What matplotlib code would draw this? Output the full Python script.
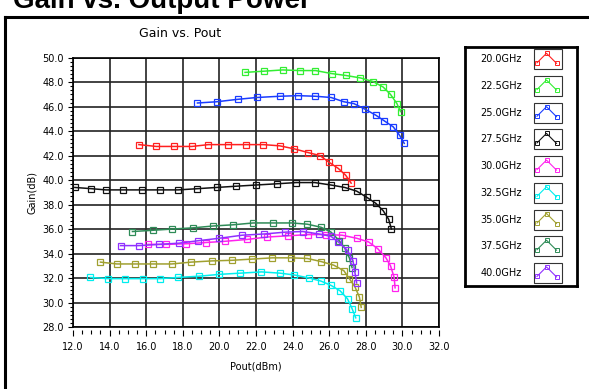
import matplotlib
matplotlib.use("Agg")
import matplotlib.pyplot as plt
from matplotlib.lines import Line2D
from matplotlib.patches import Rectangle
from matplotlib.ticker import MultipleLocator, FormatStrFormatter

# Gain vs Pout, une courbe par fréquence
freq_labels = ["20.0GHz", "22.5GHz", "25.0GHz", "27.5GHz", "30.0GHz",
               "32.5GHz", "35.0GHz", "37.5GHz", "40.0GHz"]
colors = ["#ff2020", "#33ee33", "#1a3cff", "#111111", "#ff22ee",
          "#00eeee", "#a0a030", "#2e8b57", "#9030ff"]

pout_20 = [15.6, 16.55, 17.5, 18.5, 19.4, 20.45, 21.45, 22.4, 23.3, 24.1, 24.85, 25.5, 26.0, 26.5, 26.9, 27.2]
gain_20 = [42.9, 42.75, 42.75, 42.75, 42.9, 42.9, 42.9, 42.9, 42.8, 42.55, 42.25, 42.0, 41.45, 40.95, 40.4, 39.75]

pout_22 = [21.4, 22.45, 23.45, 24.4, 25.25, 26.15, 26.9, 27.7, 28.4, 28.95, 29.35, 29.7, 29.9]
gain_22 = [48.8, 48.9, 49.0, 48.95, 48.95, 48.7, 48.55, 48.35, 48.05, 47.6, 47.0, 46.25, 45.6]

pout_25 = [18.8, 19.85, 21.0, 22.05, 23.3, 24.3, 25.25, 26.1, 26.8, 27.35, 27.95, 28.55, 29.0, 29.5, 29.85, 30.1]
gain_25 = [46.3, 46.4, 46.6, 46.75, 46.85, 46.9, 46.85, 46.75, 46.4, 46.25, 45.8, 45.3, 44.85, 44.35, 43.65, 43.0]

pout_27 = [12.1, 13.0, 13.8, 14.75, 15.75, 16.75, 17.75, 18.8, 19.85, 20.9, 22.0, 23.15,
           24.2, 25.2, 26.1, 26.85, 27.5, 28.05, 28.55, 28.95, 29.25, 29.4]
gain_27 = [39.4, 39.3, 39.2, 39.2, 39.2, 39.2, 39.2, 39.3, 39.4, 39.5, 39.6, 39.7,
           39.8, 39.8, 39.6, 39.4, 39.1, 38.6, 38.1, 37.5, 36.8, 36.0]

pout_30 = [16.1, 17.1, 18.2, 19.25, 20.3, 21.5, 22.6, 23.75, 24.85, 25.8, 26.7, 27.5,
           28.15, 28.65, 29.1, 29.35, 29.55, 29.6]
gain_30 = [34.75, 34.75, 34.8, 34.9, 35.0, 35.15, 35.35, 35.45, 35.55, 35.55, 35.5, 35.25,
           34.95, 34.4, 33.65, 33.0, 32.05, 31.2]

pout_32 = [12.95, 13.9, 14.85, 15.8, 16.75, 17.75, 18.9, 20.0, 21.15, 22.3, 23.3, 24.1,
           24.9, 25.55, 26.1, 26.6, 27.0, 27.25, 27.45]
gain_32 = [32.05, 31.95, 31.95, 31.95, 31.95, 32.05, 32.15, 32.3, 32.4, 32.5, 32.4, 32.25,
           32.0, 31.75, 31.4, 30.95, 30.3, 29.5, 28.75]

pout_35 = [13.5, 14.4, 15.4, 16.35, 17.4, 18.45, 19.6, 20.7, 21.8, 22.9, 23.9, 24.8,
           25.55, 26.25, 26.8, 27.1, 27.4, 27.65, 27.75]
gain_35 = [33.3, 33.15, 33.15, 33.15, 33.15, 33.3, 33.4, 33.45, 33.55, 33.65, 33.65, 33.6,
           33.35, 33.05, 32.6, 31.95, 31.3, 30.45, 29.6]

pout_37 = [15.25, 16.35, 17.4, 18.55, 19.65, 20.75, 21.85, 22.95, 23.95, 24.8, 25.55,
           26.1, 26.55, 26.85, 27.1, 27.25]
gain_37 = [35.8, 35.9, 36.0, 36.1, 36.25, 36.35, 36.5, 36.5, 36.5, 36.4, 36.15,
           35.75, 35.05, 34.45, 33.65, 32.85]

pout_40 = [14.6, 15.6, 16.7, 17.8, 18.85, 20.0, 21.25, 22.45, 23.6, 24.55, 25.45,
           26.1, 26.5, 27.0, 27.3, 27.4, 27.5]
gain_40 = [34.65, 34.65, 34.75, 34.85, 35.05, 35.25, 35.5, 35.6, 35.75, 35.8, 35.6,
           35.4, 34.95, 34.25, 33.4, 32.5, 31.6]

pouts = [pout_20, pout_22, pout_25, pout_27, pout_30, pout_32, pout_35, pout_37, pout_40]
gains = [gain_20, gain_22, gain_25, gain_27, gain_30, gain_32, gain_35, gain_37, gain_40]

W, H = 589, 389
fig = plt.figure(figsize=(W / 100, H / 100), dpi=100)
fig.patch.set_facecolor("white")


def fx(px):
    return px / W


def fy(py):
    return 1 - py / H


ax = fig.add_axes([fx(73), fy(327), fx(439) - fx(73), fy(57.7) - fy(327)])

for x, y, c in zip(pouts, gains, colors):
    ax.plot(x, y, color=c, lw=1.1, marker="s", ms=4.8, mfc="none", mec=c, mew=0.9, zorder=3)

ax.set_xlim(12, 32)
ax.set_ylim(28, 50)
ax.xaxis.set_major_locator(MultipleLocator(2))
ax.xaxis.set_minor_locator(MultipleLocator(0.5))
ax.yaxis.set_major_locator(MultipleLocator(2))
ax.yaxis.set_minor_locator(MultipleLocator(2 / 6))
ax.xaxis.set_major_formatter(FormatStrFormatter("%.1f"))
ax.yaxis.set_major_formatter(FormatStrFormatter("%.1f"))
ax.grid(True, which="major", color="#222222", lw=1.2)
ax.set_axisbelow(True)

# ticks de l'axe x décollés du cadre
ax.spines["bottom"].set_position(("outward", 2.5))
ax.spines["bottom"].set_visible(False)
ax.axhline(28, color="black", lw=1.2, clip_on=False, zorder=2)
for s in ["top", "left", "right"]:
    ax.spines[s].set_linewidth(1.2)

ax.tick_params(axis="x", which="major", length=4, width=0.8, pad=4, labelsize=7)
ax.tick_params(axis="x", which="minor", length=3, width=0.8)
ax.tick_params(axis="y", which="major", length=3.5, width=0.8, pad=3, labelsize=7)
ax.tick_params(axis="y", which="minor", length=2, width=0.8)

ax.set_xlabel("Pout(dBm)", fontsize=7, labelpad=7)
ax.set_ylabel("Gain(dB)", fontsize=7, labelpad=4)

fig.text(fx(180.5), fy(37), "Gain vs. Pout", ha="center", va="baseline", fontsize=9)
fig.text(fx(13), fy(8), "Gain vs. Output Power", ha="left", va="baseline",
         fontsize=20, fontweight="bold", family="Liberation Sans")

# cadre noir épais
fig.add_artist(Line2D([fx(5), fx(5)], [0, fy(17)], color="black", lw=2.2))
fig.add_artist(Line2D([fx(5), 1], [fy(17), fy(17)], color="black", lw=2.2))

# légende dessinée à la main
lax = fig.add_axes([fx(465), fy(286), fx(577) - fx(465), fy(47) - fy(286)])
lax.set_xlim(0, 112)
lax.set_ylim(239, 0)
lax.set_xticks([])
lax.set_yticks([])
for s in lax.spines.values():
    s.set_linewidth(2)
for i, (lab, c) in enumerate(zip(freq_labels, colors)):
    yc = 12.3 + 26.7 * i
    lax.text(57, yc, lab, ha="right", va="center", fontsize=7)
    lax.add_patch(Rectangle((69, yc - 10), 28, 20, fc="white", ec="#333333", lw=0.8))
    lax.plot([72, 81.5, 91.5], [yc + 3.5, yc - 6, yc + 4], color=c, lw=0.8,
             marker="s", ms=2.6, mfc="none", mec=c, mew=0.7)

fig.savefig("out.png", dpi=100)
